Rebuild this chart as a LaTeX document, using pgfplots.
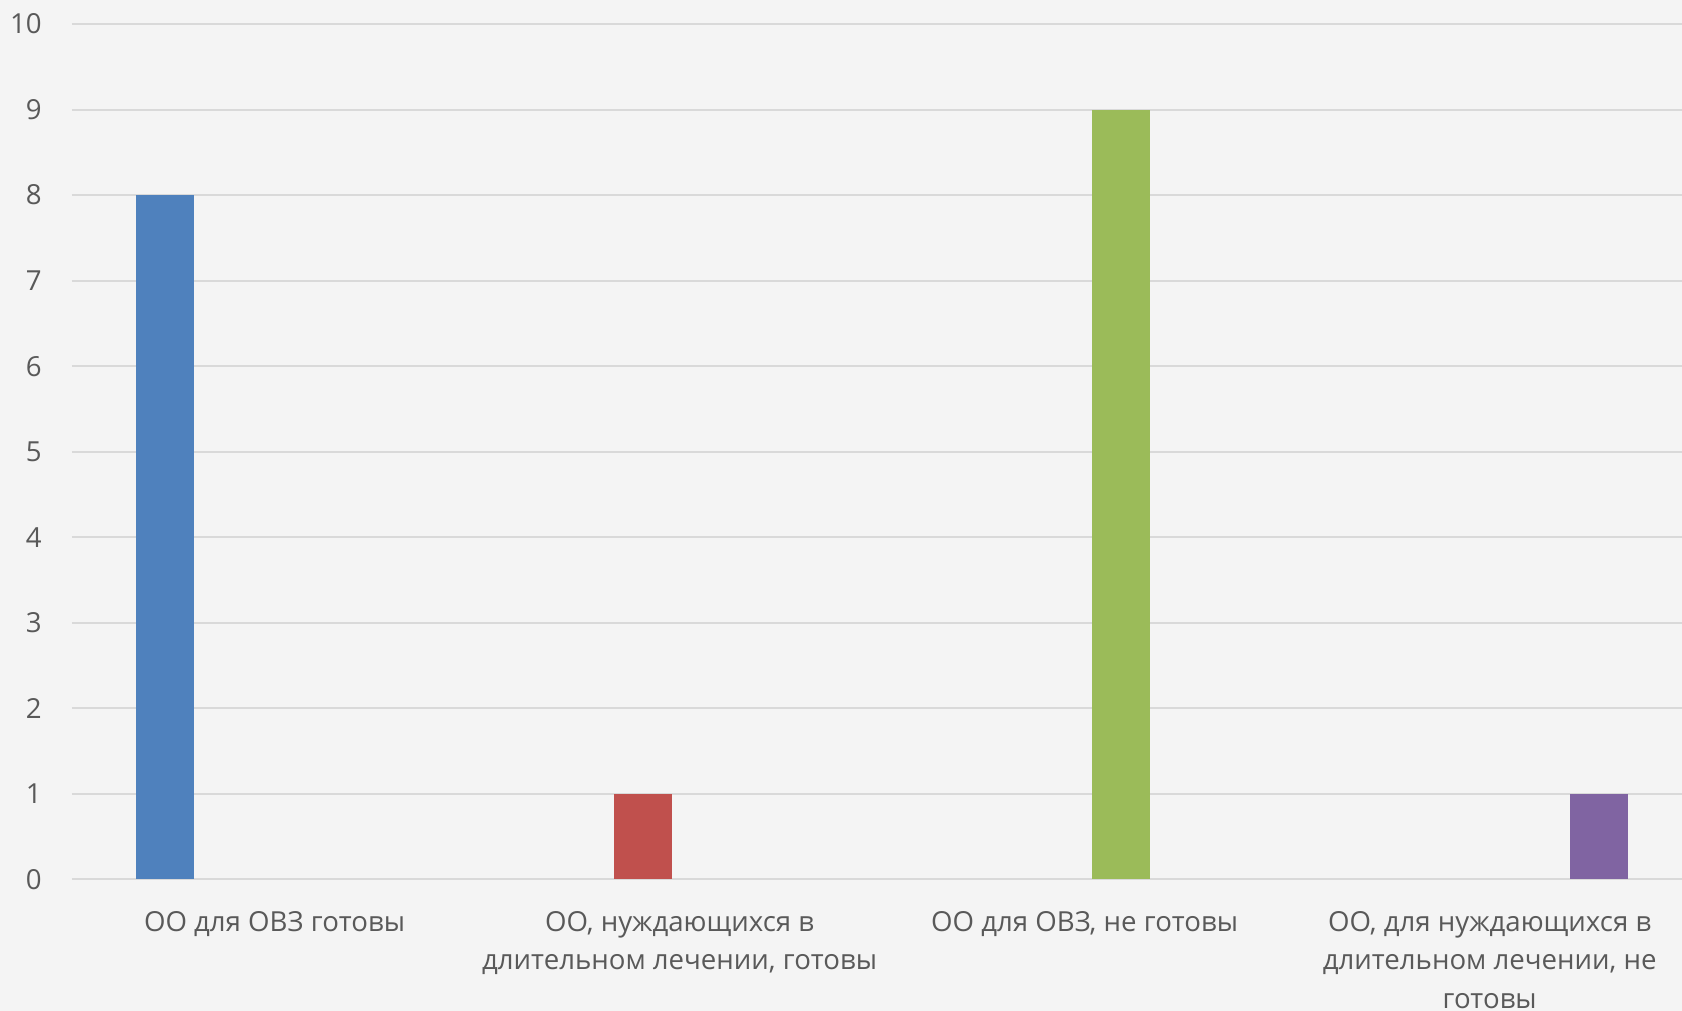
\documentclass[border=0pt]{standalone}
\usepackage{pgfplots}
\pgfplotsset{compat=1.18}
\usepackage{fontspec}
\setmainfont{Open Sans}
\definecolor{bg}{HTML}{F4F4F4}
\definecolor{gridc}{HTML}{D9D9D9}
\definecolor{txt}{HTML}{595959}
\definecolor{s1}{HTML}{4F81BD}
\definecolor{s2}{HTML}{C0504D}
\definecolor{s3}{HTML}{9BBB59}
\definecolor{s4}{HTML}{8064A2}
\begin{document}
\begin{tikzpicture}[x=1pt,y=1pt]
\path[use as bounding box, fill=bg] (0,0) rectangle (841,505.5);
\begin{axis}[
  at={(36pt,65.75pt)}, anchor=south west, scale only axis,
  width=805pt, height=427.75pt,
  xmin=-0.5, xmax=3.475, ymin=0, ymax=10,
  axis line style={draw=none},
  major tick style={draw=none},
  ymajorgrids, grid style={gridc, line width=1pt},
  ybar, bar width=29pt,
  unbounded coords=discard,
  y filter/.expression={y==0 ? nan : y},
  ytick={0,1,2,3,4,5,6,7,8,9,10},
  xtick={0,1,2,3},
  xticklabels={{ОО для ОВЗ готовы},{ОО, нуждающихся в\\длительном лечении, готовы},{ОО для ОВЗ, не готовы},{ОО, для нуждающихся в\\длительном лечении, не\\готовы}},
  /pgf/number format/assume math mode=true,
  ticklabel style={text=txt, font=\fontsize{13.8}{19.2}\selectfont},
  yticklabel style={anchor=east, inner sep=0pt, xshift=-15pt},
  xticklabel style={anchor=north, inner sep=0pt, yshift=-11.5pt, align=center},
  clip=false,
]
\addplot[fill=s1, draw=none, bar shift=-54.75pt] coordinates {(0,8) (1,0) (2,0) (3,0)};
\addplot[fill=s2, draw=none, bar shift=-18.25pt] coordinates {(0,0) (1,1) (2,0) (3,0)};
\addplot[fill=s3, draw=none, bar shift=18.25pt] coordinates {(0,0) (1,0) (2,9) (3,0)};
\addplot[fill=s4, draw=none, bar shift=54.75pt] coordinates {(0,0) (1,0) (2,0) (3,1)};
\end{axis}
\end{tikzpicture}
\end{document}
